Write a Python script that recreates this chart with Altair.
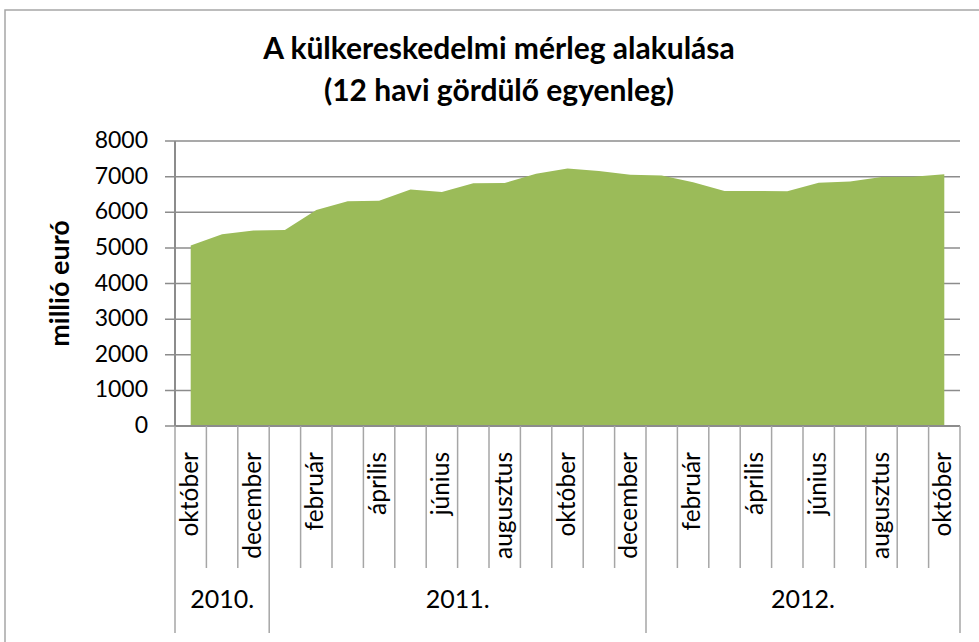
import altair as alt
import pandas as pd

# ---- data ----
months = ["október", "november", "december", "január", "február", "március",
          "április", "május", "június", "július", "augusztus", "szeptember",
          "október", "november", "december", "január", "február", "március",
          "április", "május", "június", "július", "augusztus", "szeptember",
          "október"]
years = [2010] * 3 + [2011] * 12 + [2012] * 10
values = [5070, 5380, 5490, 5500, 6060, 6310, 6320, 6640, 6570, 6815, 6820, 7080,
          7230, 7160, 7050, 7030, 6840, 6600, 6600, 6590, 6830, 6860, 6990, 6995,
          7070]
year_labels = ["2010.", "2011.", "2012."]
y_ticks = [0, 1000, 2000, 3000, 4000, 5000, 6000, 7000, 8000]
y_title = "millió euró"
title_lines = ["A külkereskedelmi mérleg alakulása", "(12 havi gördülő egyenleg)"]

df = pd.DataFrame({"i": list(range(len(months))), "month": months,
                   "year": years, "value": values})
df["show"] = df["i"] % 2 == 0

tdf = pd.DataFrame({"v": y_ticks, "lab": [str(v) for v in y_ticks]})

# category boundaries
bounds = pd.DataFrame({"b": [k - 0.5 for k in range(len(months) + 1)]})
year_first = [years.index(y) for y in sorted(set(years))]
year_edges = [f - 0.5 for f in year_first] + [len(months) - 0.5]
bounds["long"] = bounds["b"].isin(year_edges)

ydf = pd.DataFrame({
    "label": year_labels,
    "c": [(year_edges[k] + year_edges[k + 1]) / 2 for k in range(len(year_labels))],
})

W, H = 785, 285
FONT = "Lato"
GRID = "#8c8c8c"
xscale = alt.Scale(domain=[-0.5, len(months) - 0.5], nice=False, zero=False)
yscale = alt.Scale(domain=[0, 8000], nice=False, zero=True)

base = alt.Chart(df)

grid = alt.Chart(tdf).mark_rule(color=GRID, strokeWidth=1.5).encode(
    y=alt.Y("v:Q", scale=yscale, axis=None),
    x=alt.value(-10), x2=alt.value(W))

ylabels = alt.Chart(tdf).mark_text(
    align="right", baseline="middle", font=FONT, fontSize=23, color="black").encode(
    y=alt.Y("v:Q", scale=yscale, axis=None), x=alt.value(-27), text="lab:N")

area = base.mark_area(color="#9BBB59", opacity=1).encode(
    x=alt.X("i:Q", scale=xscale, axis=None),
    y=alt.Y("value:Q", scale=yscale, axis=None),
)

zero_line = base.mark_rule(color=GRID, strokeWidth=1.5).encode(
    y=alt.value(H), x=alt.value(0), x2=alt.value(W))

y_domain = base.mark_rule(color=GRID, strokeWidth=1.5).encode(
    x=alt.value(0), y=alt.value(0), y2=alt.value(H))

ytitle = alt.Chart(pd.DataFrame({"t": [y_title]})).mark_text(
    angle=270, align="center", baseline="middle", font=FONT, fontSize=27,
    fontWeight="bold", color="black").encode(
    x=alt.value(-114), y=alt.value(H / 2), text="t:N")

short_rules = alt.Chart(bounds).transform_filter("!datum.long").mark_rule(
    color="#a6a6a6", strokeWidth=1.5).encode(
    x=alt.X("b:Q", scale=xscale), y=alt.value(H), y2=alt.value(H + 142))

long_rules = alt.Chart(bounds).transform_filter("datum.long").mark_rule(
    color="#a6a6a6", strokeWidth=1.5).encode(
    x=alt.X("b:Q", scale=xscale), y=alt.value(H), y2=alt.value(H + 207))

month_text = base.transform_filter("datum.show").mark_text(
    angle=270, align="right", baseline="middle", font=FONT, fontSize=24.5,
    color="black").encode(
    x=alt.X("i:Q", scale=xscale), y=alt.value(H + 26), text="month:N")

year_text = alt.Chart(ydf).mark_text(
    align="center", baseline="middle", font=FONT, fontSize=25,
    color="black").encode(
    x=alt.X("c:Q", scale=xscale), y=alt.value(H + 174), text="label:N")

title_text = alt.Chart(pd.DataFrame({"t": ["\n".join(title_lines)]})).mark_text(
    align="center", baseline="middle", font=FONT, fontSize=30, fontWeight="bold",
    color="black", lineBreak="\n", lineHeight=42).encode(
    x=alt.value(324), y=alt.value(-91), text="t:N")

frame = alt.Chart(pd.DataFrame({"a": [0]})).mark_rect(
    filled=False, stroke="#a6a6a6", strokeWidth=1.5).encode(
    x=alt.value(-170), y=alt.value(-131), x2=alt.value(W + 60), y2=alt.value(H + 260))

chart = alt.layer(frame, grid, area, zero_line, y_domain, ylabels, ytitle,
                  short_rules, long_rules, month_text, year_text,
                  title_text).properties(
    width=W, height=H,
    autosize=alt.AutoSizeParams(type="none"),
    padding={"left": 175, "top": 141, "right": 19, "bottom": 216},
).configure_view(stroke="transparent")

chart.save("out.html", embed_options={"renderer": "svg", "actions": False})
